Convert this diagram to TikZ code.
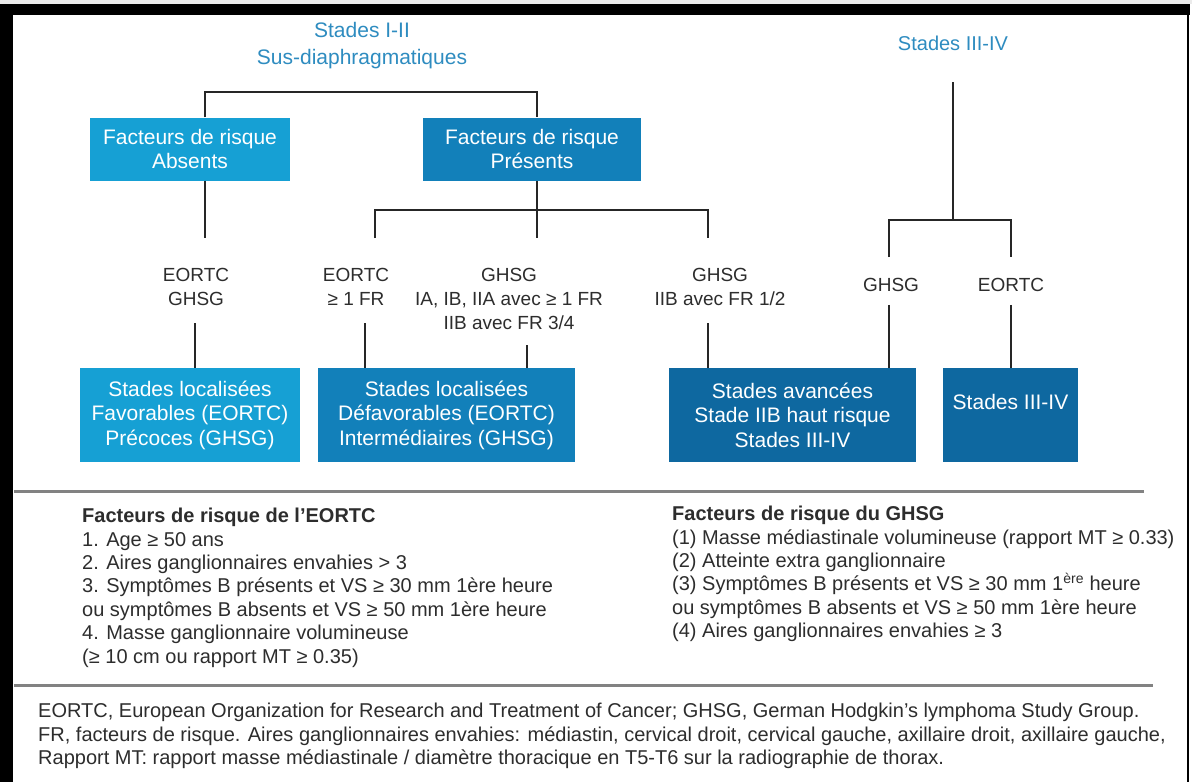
\documentclass[tikz,border=0pt]{standalone}
\usepackage{fontspec}
\setmainfont{Liberation Sans}
\usetikzlibrary{positioning}
\definecolor{stadeblue}{RGB}{46,140,192}
\definecolor{boxlight}{RGB}{22,160,212}
\definecolor{boxmid}{RGB}{18,128,186}
\definecolor{boxdark}{RGB}{14,104,160}
\definecolor{textgrey}{RGB}{45,45,45}
\definecolor{rulegrey}{RGB}{130,130,130}
\tikzset{
  stage/.style={align=center, text=stadeblue, inner sep=0pt, font=\fontsize{21}{27}\selectfont},
  crit/.style={align=center, text=textgrey, inner sep=0pt, font=\fontsize{19}{24}\selectfont},
  riskbox/.style={fill=#1, text=white, align=center, inner sep=0pt, font=\fontsize{21}{24.5}\selectfont},
  link/.style={draw=black!85, line width=2pt},
  sep/.style={draw=rulegrey, line width=3pt},
  notes/.style={anchor=north west, align=left, inner sep=0pt, text=textgrey, font=\fontsize{20}{23.4}\selectfont}
}

\begin{document}
\begin{tikzpicture}[x=1pt, y=-1pt]
  \useasboundingbox (0,0) rectangle (1192,782);
  \fill[white] (0,0) rectangle (1192,782);
  \fill[black!8] (0,0) rectangle (1192,4);
  \fill[black] (0,4) rectangle (1190,15);
  \fill[black] (0,4) rectangle (13,782);
  \draw[line width=2pt] (1188,15) -- (1188,782);

  % titles
  \node[stage] (t12) at (362,46) {Stades I-II\\Sus-diaphragmatiques};
  \node[stage, font=\fontsize{20}{24}\selectfont] (t34) at (953,43) {Stades III-IV};

  % first level
  \node[riskbox=boxlight, minimum width=200pt, minimum height=63pt] (abs) at (190,149) {Facteurs de risque\\Absents};
  \node[riskbox=boxmid, minimum width=218pt, minimum height=63pt] (pres) at (532,149) {Facteurs de risque\\Présents};

  % criteria
  \node[crit] (lA) at (196,287) {EORTC\\GHSG};
  \node[crit] (lB) at (356,287) {EORTC\\≥ 1 FR};
  \node[crit] (lC) at (509,299) {GHSG\\IA, IB, IIA avec ≥ 1 FR\\IIB avec FR 3/4};
  \node[crit] (lD) at (720,287) {GHSG\\IIB avec FR 1/2};
  \node[crit] (lE) at (891,285) {GHSG};
  \node[crit] (lF) at (1011,285) {EORTC};

  % result boxes
  \node[riskbox=boxlight, minimum width=220pt, minimum height=94pt] (b1) at (190,415) {Stades localisées\\Favorables (EORTC)\\Précoces (GHSG)};
  \node[riskbox=boxmid, minimum width=257pt, minimum height=94pt] (b2) at (446.5,415) {Stades localisées\\Défavorables (EORTC)\\Intermédiaires (GHSG)};
  \node[riskbox=boxdark, minimum width=247pt, minimum height=94pt] (b3) at (792.5,415) {Stades avancées\\Stade IIB haut risque\\Stades III-IV};
  \node[riskbox=boxdark, minimum width=135pt, minimum height=94pt] (b4) at (1010.5,415) {Stades III-IV\\[2pt]};

  % connectors
  \coordinate (jA) at (205,92);
  \coordinate (jP) at (537,92);
  \draw[link] (abs.north -| jA) |- (jP) -- (pres.north -| jP);
  \draw[link] (abs.south -| jA) -- (205,238);
  \draw[link] (pres.south -| jP) -- (537,238);
  \draw[link] (375,238) |- (708,210) -- (708,238);
  \draw[link] (t34.south |- 953,82) -- (953,220);
  \draw[link] (889,257) |- (1011,220) -- (1011,257);

  \draw[link] (195,323) -- (b1.north -| 195,0);
  \draw[link] (365,323) -- (b2.north -| 365,0);
  \draw[link] (527,345) -- (b2.north -| 527,0);
  \draw[link] (708,323) -- (b3.north -| 708,0);
  \draw[link] (lE.south -| 889,0) ++(0,13) -- (b3.north -| 889,0);
  \draw[link] (lF.south) ++(0,13) -- (b4.north -| lF);

  % risk factors
  \draw[sep] (14,491) -- (1144,491);
  \node[notes] (eortc) at (82,508) {\textbf{Facteurs de risque de l'EORTC}\\
    1. Age ≥ 50 ans\\
    2. Aires ganglionnaires envahies > 3\\
    3. Symptômes B présents et VS ≥ 30 mm 1ère heure\\
    ou symptômes B absents et VS ≥ 50 mm 1ère heure\\
    4. Masse ganglionnaire volumineuse\\
    (≥ 10 cm ou rapport MT ≥ 0.35)};
  \node[notes] (ghsg) at (672,506) {\textbf{Facteurs de risque du GHSG}\\
    (1) Masse médiastinale volumineuse (rapport MT ≥ 0.33)\\
    (2) Atteinte extra ganglionnaire\\
    (3) Symptômes B présents et VS ≥ 30 mm 1\textsuperscript{ère} heure\\
    ou symptômes B absents et VS ≥ 50 mm 1ère heure\\
    (4) Aires ganglionnaires envahies ≥ 3};

  % footnote
  \draw[sep] (14,685) -- (1153,685);
  \node[notes, font=\fontsize{20}{23.5}\selectfont] (foot) at (38,703) {EORTC, European Organization for Research and Treatment of Cancer; GHSG, German Hodgkin's lymphoma Study Group.\\
    FR, facteurs de risque. Aires ganglionnaires envahies: médiastin, cervical droit, cervical gauche, axillaire droit, axillaire gauche,\\
    Rapport MT: rapport masse médiastinale / diamètre thoracique en T5-T6 sur la radiographie de thorax.};
\end{tikzpicture}
\end{document}
